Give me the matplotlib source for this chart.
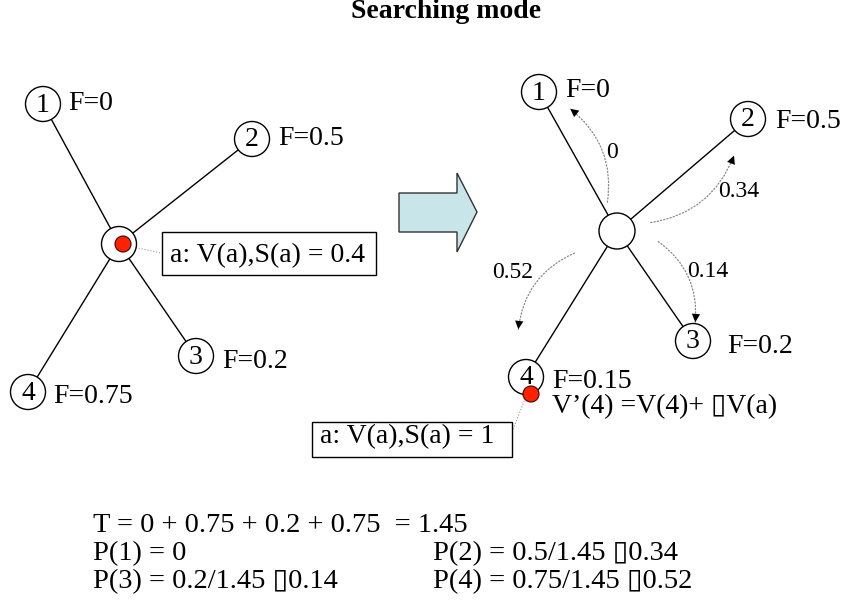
import matplotlib.pyplot as plt
from matplotlib.patches import Circle, Rectangle, Polygon, FancyArrowPatch

# node layout (pixel coords, y down)
node_ids = ['1', '2', '3', '4']
left_center = (119, 244)
left_nodes = [(43, 104), (252, 139), (196, 356), (28, 392)]
left_f_text = ['F=0', 'F=0.5', 'F=0.2', 'F=0.75']
left_f_pos = [(68, 110), (278, 145), (222, 368), (53, 403)]

right_center = (617, 231)
right_nodes = [(539, 92), (748, 119), (693, 341), (526, 377)]
right_f_text = ['F=0', 'F=0.5', 'F=0.2', 'F=0.15']
right_f_pos = [(565, 97), (775, 128), (727, 353), (552, 388)]

# transition probabilities on the curved arrows
prob_labels = ['0', '0.34', '0.14', '0.52']
prob_label_pos = [(612, 158), (739, 197), (708, 277), (513, 278)]
arrow_start = [(607, 205), (648, 223), (656, 240), (577, 252)]
arrow_end = [(568, 107), (735, 153), (695, 325), (518, 332)]
arrow_rad = [0.3, 0.3, -0.3, 0.3]

bottom_lines = [
    ('T = 0 + 0.75 + 0.2 + 0.75  = 1.45', ''),
    ('P(1) = 0', 'P(2) = 0.5/1.45 \u25af0.34'),
    ('P(3) = 0.2/1.45 \u25af0.14', 'P(4) = 0.75/1.45 \u25af0.52'),
]

SERIF = ['Liberation Serif', 'DejaVu Sans']

fig = plt.figure(figsize=(8.45, 6.07), dpi=100)
ax = fig.add_axes([0, 0, 1, 1])
ax.set_xlim(0, 845)
ax.set_ylim(607, 0)
ax.axis('off')


def draw_star(center, nodes, r_center):
    for (x, y) in nodes:
        ax.plot([center[0], x], [center[1], y], color='black', lw=1, zorder=1)
    ax.add_patch(Circle(center, r_center, facecolor='white', edgecolor='black', lw=1, zorder=2))
    for nid, (x, y) in zip(node_ids, nodes):
        ax.add_patch(Circle((x, y), 17.5, facecolor='white', edgecolor='black', lw=1, zorder=2))
        ax.text(x, y + 1, nid, ha='center', va='center', fontsize=20, family=SERIF, zorder=3)


draw_star(left_center, left_nodes, 17.5)
for t, (x, y) in zip(left_f_text, left_f_pos):
    ax.text(x, y, t, ha='left', va='baseline', fontsize=20, family=SERIF)

draw_star(right_center, right_nodes, 18)
for t, (x, y) in zip(right_f_text, right_f_pos):
    ax.text(x, y, t, ha='left', va='baseline', fontsize=20, family=SERIF)
ax.text(552, 413, 'V\u2019(4) =V(4)+ \u25afV(a)', ha='left', va='baseline', fontsize=20, family=SERIF)

# red agent on the left, with its label box
ax.add_patch(Circle((123, 244), 8, facecolor='#ff2200', edgecolor='#400000', lw=0.8, zorder=4))
ax.plot([133, 161], [247, 253], color='#999999', lw=0.8, ls=':', zorder=1)
ax.add_patch(Rectangle((162, 232), 214, 43, facecolor='white', edgecolor='black', lw=1, zorder=2))
ax.text(170, 262, 'a: V(a),S(a) = 0.4', ha='left', va='baseline', fontsize=20, family=SERIF, zorder=3)

# red agent moved to node 4
ax.add_patch(Circle((531, 394), 8, facecolor='#ff2200', edgecolor='#400000', lw=0.8, zorder=4))
ax.plot([512, 525], [432, 399], color='#999999', lw=0.8, ls=':', zorder=1)
ax.add_patch(Rectangle((312, 422), 200, 35, facecolor='white', edgecolor='black', lw=1, zorder=2))
ax.text(320, 443, 'a: V(a),S(a) = 1', ha='left', va='baseline', fontsize=20, family=SERIF, zorder=3)

# big block arrow between the two states
ax.add_patch(Polygon([(399, 193), (457, 193), (457, 173), (477, 212),
                      (457, 252), (457, 232), (399, 232)],
                     closed=True, facecolor='#c8e6ea', edgecolor='#333333', lw=1))

# curved dotted arrows
for s, e, rad in zip(arrow_start, arrow_end, arrow_rad):
    ax.add_patch(FancyArrowPatch(s, e, connectionstyle=f'arc3,rad={rad}', arrowstyle='-',
                                 color='#888888', lw=0.9, ls=':'))
    ax.add_patch(FancyArrowPatch(s, e, connectionstyle=f'arc3,rad={rad}', arrowstyle='-|>,head_length=6,head_width=3',
                                 color='black', lw=0, mutation_scale=1))
for t, (x, y) in zip(prob_labels, prob_label_pos):
    ax.text(x, y, t, ha='center', va='baseline', fontsize=17, family=SERIF)

# formulas at the bottom
for i, (a, b) in enumerate(bottom_lines):
    y = 532 + 28 * i
    ax.text(93, y, a, ha='left', va='baseline', fontsize=20.5, family=SERIF)
    if b:
        ax.text(433, y, b, ha='left', va='baseline', fontsize=20.5, family=SERIF)

ax.text(446, 18, 'Searching mode', ha='center', va='baseline', fontsize=20,
        fontweight='bold', family=SERIF)

fig.savefig('out.png', dpi=100)
